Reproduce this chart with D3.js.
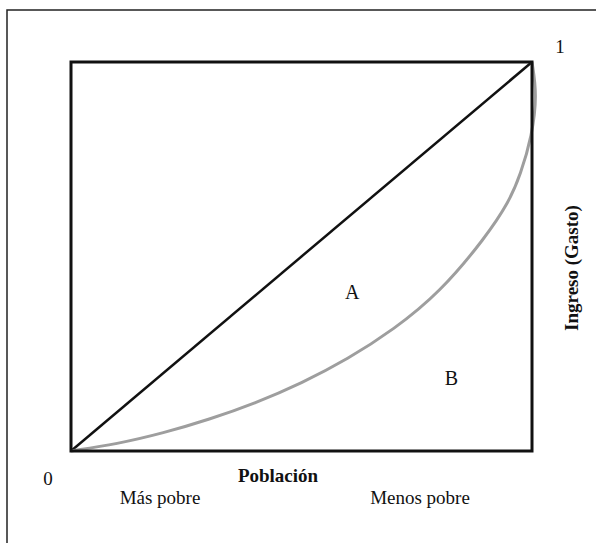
<!DOCTYPE html>
<html>
<head>
<meta charset="utf-8">
<script src="https://cdn.jsdelivr.net/npm/d3@7"></script>
<style>
  html, body { margin: 0; padding: 0; background: #fff; }
  svg { display: block; }
  text { font-family: "Liberation Serif", "Times New Roman", serif; fill: #111; }
</style>
</head>
<body>
<svg id="chart" width="596" height="543"></svg>
<script>
// Lorenz curve data: cumulative population share vs cumulative income share
const population = [0, 0.1, 0.2, 0.3, 0.4, 0.5, 0.6, 0.7, 0.8, 0.9, 0.95, 0.975, 1.0, 1.011, 1.0];
const income     = [0, 0.018, 0.046, 0.081, 0.123, 0.174, 0.236, 0.312, 0.407, 0.55, 0.64, 0.71, 0.81, 0.915, 1.0];
const equality   = [0, 1];
const areaLabels = ["A", "B"];
const areaPos    = [[0.61, 0.39], [0.825, 0.17]];
const tickLabels = ["0", "1"];

const svg = d3.select("#chart");
const x = d3.scaleLinear().domain([0, 1]).range([71, 532]);
const y = d3.scaleLinear().domain([0, 1]).range([451, 62]);

// outer frame (top and left visible)
svg.append("rect")
  .attr("x", 7).attr("y", 10).attr("width", 600).attr("height", 600)
  .attr("fill", "none").attr("stroke", "#222").attr("stroke-width", 1.5);

// equality line
svg.append("line")
  .attr("x1", x(equality[0])).attr("y1", y(equality[0]))
  .attr("x2", x(equality[1])).attr("y2", y(equality[1]))
  .attr("stroke", "#111").attr("stroke-width", 2.5);

// Lorenz curve
const pts = population.map((p, i) => [p, income[i]]);
svg.append("path")
  .datum(pts)
  .attr("d", d3.line().x(d => x(d[0])).y(d => y(d[1])).curve(d3.curveBasis))
  .attr("fill", "none").attr("stroke", "#9e9e9e").attr("stroke-width", 3);

// square box
svg.append("rect")
  .attr("x", x(0)).attr("y", y(1))
  .attr("width", x(1) - x(0)).attr("height", y(0) - y(1))
  .attr("fill", "none").attr("stroke", "#111").attr("stroke-width", 3);

// area labels
svg.selectAll(".area").data(areaLabels).join("text")
  .attr("x", (d, i) => x(areaPos[i][0]))
  .attr("y", (d, i) => y(areaPos[i][1]))
  .attr("text-anchor", "middle")
  .attr("font-size", 20)
  .text(d => d);

// 0 and 1
svg.append("text").attr("x", 48).attr("y", 485).attr("text-anchor", "middle").attr("font-size", 19).text(tickLabels[0]);
svg.append("text").attr("x", 560).attr("y", 53).attr("text-anchor", "middle").attr("font-size", 19).text(tickLabels[1]);

// axis titles
svg.append("text").attr("x", 278).attr("y", 482).attr("text-anchor", "middle")
  .attr("font-size", 19).attr("font-weight", "bold").text("Población");
svg.append("text").attr("x", 160).attr("y", 504).attr("text-anchor", "middle")
  .attr("font-size", 19).text("Más pobre");
svg.append("text").attr("x", 420).attr("y", 504).attr("text-anchor", "middle")
  .attr("font-size", 19).text("Menos pobre");
svg.append("text")
  .attr("transform", "translate(578,268) rotate(-90)")
  .attr("text-anchor", "middle")
  .attr("font-size", 19).attr("font-weight", "bold").text("Ingreso (Gasto)");
</script>
</body>
</html>
